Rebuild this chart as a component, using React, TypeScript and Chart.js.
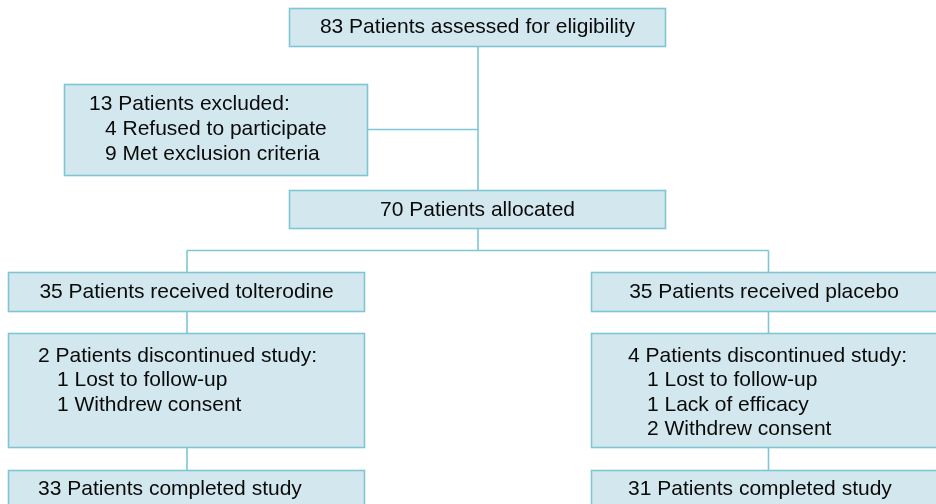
import React, { useEffect, useRef } from "react";
import { Chart, registerables } from "chart.js";

Chart.register(...registerables);

// ---- Flow data (counts & labels) ----
const assessedCount = 83;
const excludedCount = 13;
const exclusionReasons = ["Refused to participate", "Met exclusion criteria"];
const exclusionCounts = [4, 9];
const allocatedCount = 70;
const armNames = ["tolterodine", "placebo"];
const armReceived = [35, 35];
const armDiscontinued = [2, 4];
const leftReasons = ["Lost to follow-up", "Withdrew consent"];
const leftReasonCounts = [1, 1];
const rightReasons = ["Lost to follow-up", "Lack of efficacy", "Withdrew consent"];
const rightReasonCounts = [1, 1, 2];
const armCompleted = [33, 31];

// ---- Layout (diagram coordinate space) ----
type Box = {
  x0: number; x1: number; y0: number; y1: number;
  lines: string[]; align: "center" | "left"; tx?: number; indent?: number; ty: number; lh?: number;
};

const boxes: Box[] = [
  { x0: 289.5, x1: 665.5, y0: 8.5, y1: 46.5, lines: [`${assessedCount} Patients assessed for eligibility`], align: "center", ty: 27 },
  {
    x0: 64.5, x1: 367.5, y0: 84.5, y1: 175.5,
    lines: [`${excludedCount} Patients excluded:`, ...exclusionReasons.map((r, i) => `${exclusionCounts[i]} ${r}`)],
    align: "left", tx: 89, indent: 16, ty: 104, lh: 25,
  },
  { x0: 289.5, x1: 665.5, y0: 190.5, y1: 228.5, lines: [`${allocatedCount} Patients allocated`], align: "center", ty: 210 },
  { x0: 8.5, x1: 364.5, y0: 272.5, y1: 311.5, lines: [`${armReceived[0]} Patients received ${armNames[0]}`], align: "center", ty: 292 },
  { x0: 591.5, x1: 940, y0: 272.5, y1: 311.5, lines: [`${armReceived[1]} Patients received ${armNames[1]}`], align: "center", tx: 764, ty: 292 },
  {
    x0: 8.5, x1: 364.5, y0: 333.5, y1: 447.5,
    lines: [`${armDiscontinued[0]} Patients discontinued study:`, ...leftReasons.map((r, i) => `${leftReasonCounts[i]} ${r}`)],
    align: "left", tx: 38, indent: 19, ty: 356, lh: 24.5,
  },
  {
    x0: 591.5, x1: 940, y0: 333.5, y1: 447.5,
    lines: [`${armDiscontinued[1]} Patients discontinued study:`, ...rightReasons.map((r, i) => `${rightReasonCounts[i]} ${r}`)],
    align: "left", tx: 628, indent: 19, ty: 356, lh: 24.5,
  },
  { x0: 8.5, x1: 364.5, y0: 470.5, y1: 510, lines: [`${armCompleted[0]} Patients completed study`], align: "left", tx: 38, ty: 489 },
  { x0: 591.5, x1: 940, y0: 470.5, y1: 510, lines: [`${armCompleted[1]} Patients completed study`], align: "left", tx: 628, ty: 489 },
];

const connectors: number[][] = [
  [478, 46.5, 478, 190.5],
  [367.5, 129.5, 478, 129.5],
  [478, 228.5, 478, 250.5],
  [187, 250.5, 768.5, 250.5],
  [187, 250.5, 187, 272.5],
  [768.5, 250.5, 768.5, 272.5],
  [187, 311.5, 187, 333.5],
  [768.5, 311.5, 768.5, 333.5],
  [187, 447.5, 187, 470.5],
  [768.5, 447.5, 768.5, 470.5],
];

const FILL = "#d3e8ee";
const STROKE = "#7ec6d2";
const TEXT = "#0a0a0a";
const FONT = '21px "Liberation Sans", Arial, sans-serif';

const flowPlugin = {
  id: "flow",
  afterDatasetsDraw(chart: any) {
    const { ctx, scales } = chart;
    const px = (v: number) => scales.x.getPixelForValue(v);
    const py = (v: number) => scales.y.getPixelForValue(v);
    ctx.save();
    ctx.strokeStyle = STROKE;
    ctx.lineWidth = 1.6;
    connectors.forEach(([x0, y0, x1, y1]) => {
      ctx.beginPath();
      ctx.moveTo(px(x0), py(y0));
      ctx.lineTo(px(x1), py(y1));
      ctx.stroke();
    });
    boxes.forEach((b) => {
      const X0 = px(b.x0), X1 = px(b.x1), Y0 = py(b.y0), Y1 = py(b.y1);
      ctx.fillStyle = FILL;
      ctx.fillRect(X0, Y0, X1 - X0, Y1 - Y0);
      ctx.strokeStyle = STROKE;
      ctx.lineWidth = 1.6;
      ctx.strokeRect(X0, Y0, X1 - X0, Y1 - Y0);
      ctx.fillStyle = TEXT;
      ctx.font = FONT;
      ctx.textBaseline = "middle";
      b.lines.forEach((t, i) => {
        const y = py(b.ty + i * (b.lh || 0));
        if (b.align === "center") {
          ctx.textAlign = "center";
          const cx = b.tx !== undefined ? b.tx : (b.x0 + b.x1) / 2;
          ctx.fillText(t, px(cx), y);
        } else {
          ctx.textAlign = "left";
          const x = (b.tx || 0) + (i > 0 ? b.indent || 0 : 0);
          ctx.fillText(t, px(x), y);
        }
      });
    });
    ctx.restore();
  },
};

export default function App() {
  const ref = useRef<HTMLCanvasElement | null>(null);
  useEffect(() => {
    document.body.style.margin = "0";
    if (!ref.current) return;
    const chart = new Chart(ref.current, {
      type: "scatter",
      data: {
        datasets: [
          {
            data: boxes.map((b) => ({ x: (b.x0 + b.x1) / 2, y: (b.y0 + b.y1) / 2 })),
            pointRadius: 0,
          },
        ],
      },
      options: {
        animation: false,
        responsive: false,
        devicePixelRatio: 1,
        layout: { padding: 0 },
        plugins: { legend: { display: false }, tooltip: { enabled: false } },
        scales: {
          x: { type: "linear", min: 0, max: 936, display: false },
          y: { type: "linear", min: 0, max: 504, reverse: true, display: false },
        },
      },
      plugins: [flowPlugin],
    });
    return () => chart.destroy();
  }, []);
  return (
    <div style={{ width: 936, height: 504, background: "#fff" }}>
      <canvas ref={ref} width={936} height={504} style={{ display: "block" }} />
    </div>
  );
}
